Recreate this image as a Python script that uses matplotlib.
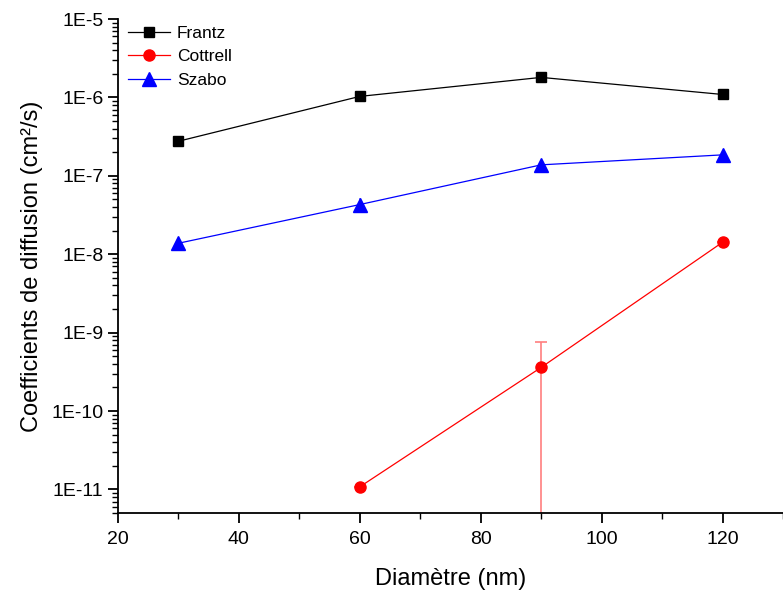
import numpy as np
import matplotlib.pyplot as plt
from matplotlib.ticker import NullFormatter

plt.rcParams['font.family'] = ['Liberation Sans', 'DejaVu Sans']

# Donnees
diam = [30, 60, 90, 120]
frantz = [2.76e-7, 1.03e-6, 1.8e-6, 1.09e-6]
szabo = [1.38e-8, 4.3e-8, 1.38e-7, 1.85e-7]
szabo_err = [0, 0.9e-8, 0, 0]
diam_cottrell = [60, 90, 120]
cottrell = [1.08e-11, 3.6e-10, 1.42e-8]
cottrell_err = [0, 4.1e-10, 0]

fig = plt.figure(figsize=(7.83, 5.92), dpi=100)
ax = fig.add_axes([0.1507, 0.1334, 0.8493, 0.8345])
ax.set_yscale('log', nonpositive='clip')

ax.plot(diam, frantz, color='black', lw=0.9, marker='s', ms=7.5, label='Frantz')
ax.errorbar(diam, szabo, yerr=szabo_err, fmt='none', ecolor='#7f7fff', elinewidth=1.2, capsize=0)
ax.errorbar(diam_cottrell, cottrell, yerr=cottrell_err, fmt='none', ecolor='#ff7f7f',
            elinewidth=1.2, capsize=4, capthick=1.2)
ax.plot(diam_cottrell, cottrell, color='red', lw=0.9, marker='o', ms=8, label='Cottrell')
ax.plot(diam, szabo, color='blue', lw=0.9, marker='^', ms=9.5, label='Szabo')

ax.set_xlim(20, 130)
ax.set_ylim(5e-12, 1e-5)
ax.set_xticks([20, 40, 60, 80, 100, 120])
ax.set_xticks([30, 50, 70, 90, 110, 130], minor=True)
yt = [1e-11, 1e-10, 1e-9, 1e-8, 1e-7, 1e-6, 1e-5]
ax.set_yticks(yt)
ax.set_yticklabels(['1E-11', '1E-10', '1E-9', '1E-8', '1E-7', '1E-6', '1E-5'])
ymin = [m * 10.0 ** e for e in range(-12, -5) for m in range(2, 10)]
ymin = [v for v in ymin if 5e-12 <= v <= 1e-5]
ax.set_yticks(ymin, minor=True)
ax.yaxis.set_minor_formatter(NullFormatter())
ax.set_ylim(5e-12, 1e-5)

for s in ['top', 'right']:
    ax.spines[s].set_visible(False)
for s in ['left', 'bottom']:
    ax.spines[s].set_linewidth(1.3)
ax.tick_params(axis='both', which='major', length=7, width=1.3, labelsize=14, direction='out')
ax.tick_params(axis='both', which='minor', length=4.5, width=1.0, direction='out')
ax.tick_params(axis='x', pad=6)

ax.set_xlabel('Diamètre (nm)', fontsize=17, labelpad=14)
ax.set_ylabel('Coefficients de diffusion (cm²/s)', fontsize=17, labelpad=6)

ax.legend(loc='upper left', bbox_to_anchor=(0.0, 1.008), frameon=False, fontsize=12.5,
          handlelength=2.4, handletextpad=0.4, labelspacing=0.5, borderaxespad=0.2)

plt.savefig('out.png', dpi=100)
